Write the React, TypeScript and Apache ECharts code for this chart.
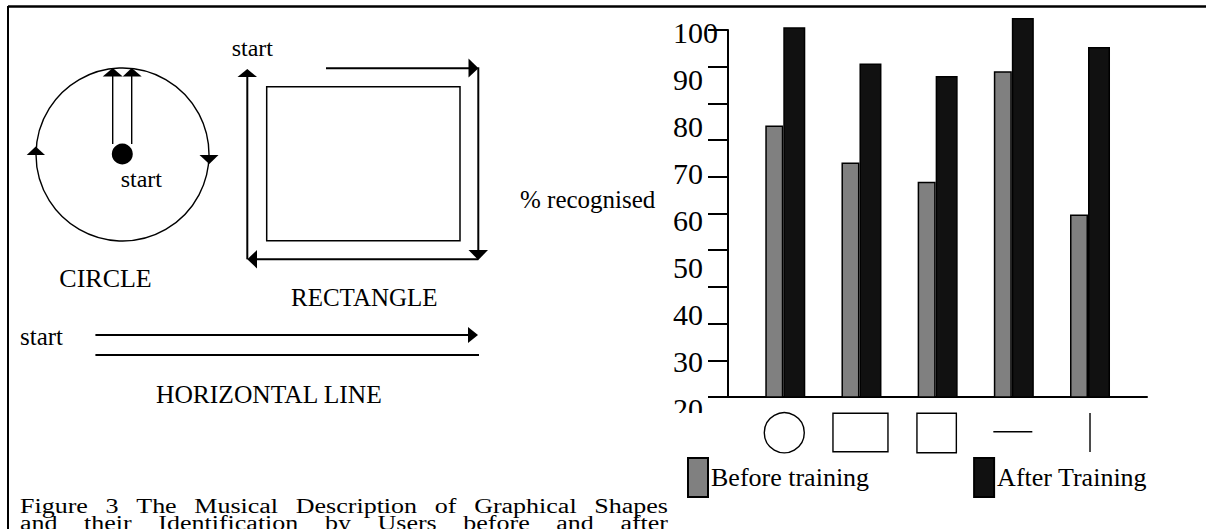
import React, { useEffect, useRef } from 'react';
import * as echarts from 'echarts';

const FONT = "'Liberation Serif', 'Times New Roman', Times, serif";

// ---- data ----
const categories = ['circle', 'rectangle', 'square', 'horizontal line', 'vertical line'];
const seriesNames = ['Before training', 'After Training'];
const beforeTraining = [79.2, 71.1, 66.9, 91.0, 59.8];
const afterTraining = [100.6, 92.7, 90.0, 102.6, 96.3];
const yLabelMin = 20;
const yLabelMax = 100;
const yLabelStep = 10;
const yTickCount = 10; // tick marks drawn on the axis (11 marks)
const yAxisTitle = '% recognised';
const captionLines = [
  'Figure 3 The Musical Description of Graphical Shapes',
  'and their Identification by Users before and after',
];

const T = (text: string, x: number, baseline: number, size: number, extra: any = {}, sy = 1) => ({
  type: 'text',
  x,
  y: baseline - 0.3375 * size * sy,
  scaleY: sy,
  silent: true,
  style: {
    text,
    fill: '#000',
    fontSize: size,
    fontFamily: FONT,
    align: 'left',
    verticalAlign: 'middle',
    textAlign: 'left',
    textVerticalAlign: 'middle',
    ...extra,
  },
});
const L = (x1: number, y1: number, x2: number, y2: number, w = 2) => ({
  type: 'line',
  silent: true,
  shape: { x1, y1, x2, y2 },
  style: { stroke: '#000', lineWidth: w },
});
const P = (points: number[][]) => ({
  type: 'polygon',
  silent: true,
  shape: { points },
  style: { fill: '#000' },
});

export default function App() {
  const ref = useRef<HTMLDivElement>(null);
  useEffect(() => {
    document.body.style.margin = '0';
    const chart = echarts.init(ref.current!, null, { renderer: 'svg' });

    const pxPerUnit = 367 / 80;
    const barMax = 105;
    const barGridHeight = (barMax - 20) * pxPerUnit;
    const xMin = 0.248;
    const xMax = xMin + 419 / 76.18;

    chart.setOption({
      animation: false,
      backgroundColor: '#fff',
      grid: [
        { left: 728, top: 397 - barGridHeight, width: 419, height: barGridHeight },
        { left: 728, top: 30, width: 419, height: 367 },
        { left: 728, top: 32.5, width: 419, height: 375.5 },
      ],
      xAxis: [
        {
          type: 'value', gridIndex: 0, min: xMin, max: xMax,
          axisLine: { show: true, onZero: false, lineStyle: { color: '#000', width: 2 } },
          axisTick: { show: false }, axisLabel: { show: false }, splitLine: { show: false },
        },
        { type: 'value', gridIndex: 1, show: false },
        { type: 'value', gridIndex: 2, show: false },
      ],
      yAxis: [
        { type: 'value', gridIndex: 0, min: 20, max: barMax, show: false },
        {
          type: 'value', gridIndex: 1, min: 0, max: yTickCount, interval: 1,
          axisLine: { show: true, lineStyle: { color: '#000', width: 2 } },
          axisTick: { show: true, length: 20, lineStyle: { color: '#000', width: 2 } },
          axisLabel: { show: false }, splitLine: { show: false },
        },
        {
          type: 'value', gridIndex: 2, min: yLabelMin, max: yLabelMax, interval: yLabelStep,
          axisLine: { show: false }, axisTick: { show: false }, splitLine: { show: false },
          axisLabel: {
            show: true, fontSize: 30, fontFamily: FONT, color: '#000',
            align: 'left', margin: 55,
          },
        },
      ],
      legend: {
        left: 687, top: 457, padding: 0, itemWidth: 20, itemHeight: 39, itemGap: 104,
        icon: 'rect', selectedMode: false,
        textStyle: { fontSize: 26, fontFamily: FONT, color: '#000', padding: [0, 0, 0, -2] },
        data: seriesNames,
      },
      series: [
        {
          name: seriesNames[0], type: 'bar', xAxisIndex: 0, yAxisIndex: 0,
          barWidth: 18, barGap: '0%',
          itemStyle: { color: '#808080', borderColor: '#000', borderWidth: 1.5 },
          data: beforeTraining.map((v, i) => [i + 1, v]),
          silent: true,
        },
        {
          name: seriesNames[1], type: 'bar', xAxisIndex: 0, yAxisIndex: 0,
          barWidth: 22, barGap: '0%',
          itemStyle: { color: '#111111', borderColor: '#000', borderWidth: 1.5 },
          data: afterTraining.map((v, i) => [i + 1, v]),
          silent: true,
        },
      ],
    });

    // category icons under the axis, positioned through the x scale
    const icons: any[] = [];
    categories.forEach((c, i) => {
      const cx = (chart.convertToPixel({ xAxisIndex: 0 }, i + 1) as number) - 1;
      const top = 413.3;
      if (c === 'circle') {
        icons.push({ type: 'circle', silent: true, shape: { cx, cy: 432.7, r: 20 }, style: { fill: 'none', stroke: '#000', lineWidth: 1.4 } });
      } else if (c === 'rectangle') {
        icons.push({ type: 'rect', silent: true, shape: { x: cx - 27.5, y: top, width: 55, height: 38.5 }, style: { fill: 'none', stroke: '#000', lineWidth: 1.4 } });
      } else if (c === 'square') {
        icons.push({ type: 'rect', silent: true, shape: { x: cx - 19.7, y: top, width: 39.4, height: 39.4 }, style: { fill: 'none', stroke: '#000', lineWidth: 1.4 } });
      } else if (c === 'horizontal line') {
        icons.push(L(cx - 19.5, 431.7, cx + 19.5, 431.7, 1.4));
      } else {
        icons.push(L(cx + 1, 413, cx + 1, 452, 1.4));
      }
    });

    // justified caption
    const capSize = 26;
    const capScaleY = 0.8;
    const ctx = document.createElement('canvas').getContext('2d')!;
    ctx.font = `${capSize}px ${FONT}`;
    const caption: any[] = [];
    const capLeft = 20;
    const capRight = 668;
    const capBaselines = [513, 529.5];
    captionLines.forEach((line, li) => {
      const words = line.split(' ');
      const widths = words.map((w) => ctx.measureText(w).width);
      const total = widths.reduce((a, b) => a + b, 0);
      const gap = (capRight - capLeft - total) / (words.length - 1);
      let x = capLeft;
      words.forEach((w, wi) => {
        caption.push(T(w, x, capBaselines[li], capSize, {}, capScaleY));
        x += widths[wi] + gap;
      });
    });

    const drawing: any[] = [
      // frame
      L(8, 6.5, 1206, 6.5, 2.5),
      L(8, 6, 8, 529, 2),
      // circle figure
      { type: 'circle', silent: true, shape: { cx: 122.5, cy: 154.5, r: 86.5 }, style: { fill: 'none', stroke: '#000', lineWidth: 1.4 } },
      { type: 'circle', silent: true, shape: { cx: 122.3, cy: 154, r: 10.5 }, style: { fill: '#000' } },
      L(112.7, 144, 112.7, 74, 1.4),
      L(131.7, 144, 131.7, 74, 1.4),
      P([[112.7, 68], [102.7, 76.5], [122.7, 76.5]]),
      P([[131.7, 68], [122.7, 76.5], [141.7, 76.5]]),
      P([[35.7, 146.5], [26.7, 155], [45, 155]]),
      P([[209.3, 164], [199.5, 155], [218.5, 155]]),
      T('start', 120.7, 186.7, 24),
      T('CIRCLE', 59.3, 287.5, 26),
      // rectangle figure
      { type: 'rect', silent: true, shape: { x: 266.7, y: 86.7, width: 193.3, height: 154 }, style: { fill: 'none', stroke: '#000', lineWidth: 1.5 } },
      L(326, 68.3, 470, 68.3),
      P([[478.5, 68.3], [468.5, 58.5], [468.5, 77.5]]),
      L(478.3, 67.3, 478.3, 252),
      P([[478.3, 260], [468.5, 250], [488, 250]]),
      L(478.3, 259.3, 255, 259.3),
      P([[247.3, 259.3], [257, 250], [257, 268.5]]),
      L(247.3, 259.3, 247.3, 76),
      P([[247.3, 69], [237.5, 77], [257, 77]]),
      T('start', 231.7, 56, 24),
      T('RECTANGLE', 291, 306, 25),
      // horizontal line figure
      T('start', 20, 345, 25),
      L(95.4, 335, 470, 335),
      P([[478, 335], [468, 327], [468, 343]]),
      L(95.4, 355, 479, 355),
      T('HORIZONTAL LINE', 156, 403, 25.5),
      // y axis title
      T(yAxisTitle, 520, 208.3, 25),
      // clip of lowest tick label, as in the reference
      { type: 'rect', silent: true, z: 200, shape: { x: 668, y: 413, width: 56, height: 14 }, style: { fill: '#fff' } },
    ];

    chart.setOption({ graphic: [...drawing, ...icons, ...caption] });
    return () => chart.dispose();
  }, []);
  return <div ref={ref} style={{ width: 1206, height: 529 }} />;
}
